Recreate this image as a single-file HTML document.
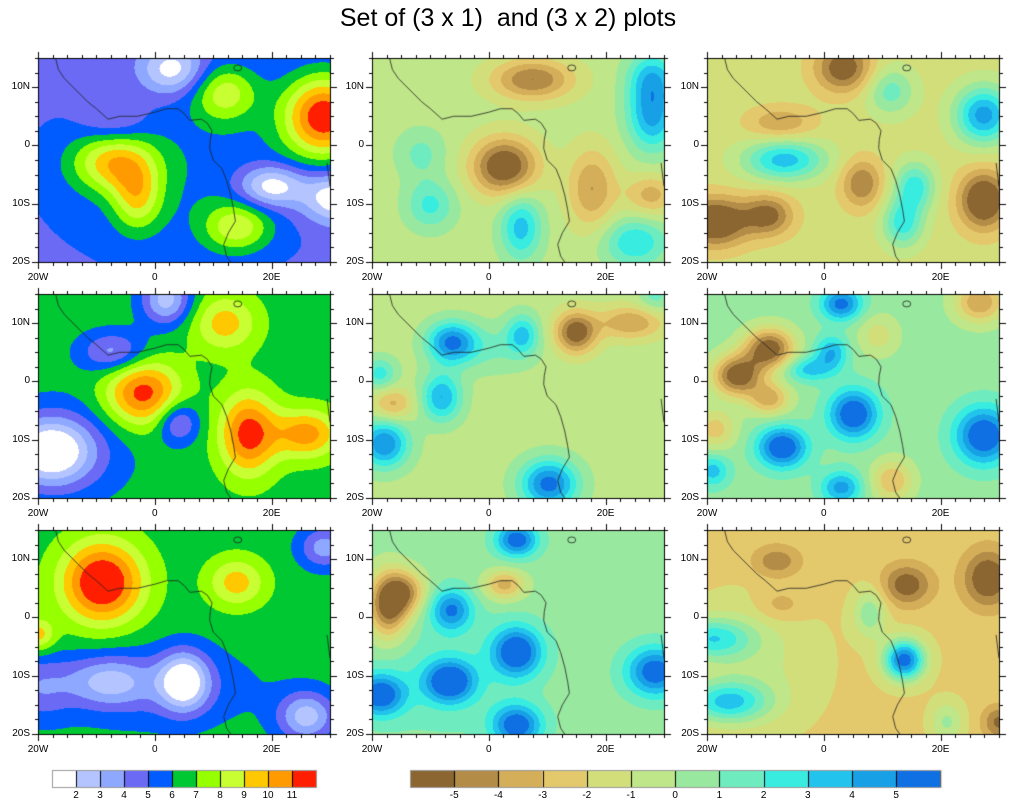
<!DOCTYPE html>
<html><head><meta charset="utf-8">
<style>
body{margin:0;background:#fff;width:1016px;height:806px;overflow:hidden;position:relative;font-family:"Liberation Sans",sans-serif}
canvas{position:absolute;left:0;top:0}
.t{position:absolute;font-size:10px;color:#000;white-space:nowrap}
#title{position:absolute;left:0;width:1016px;top:4px;text-align:center;font-size:25px}
</style></head><body>
<canvas id="c" width="1016" height="806"></canvas>
<div id="title">Set of (3 x 1)&nbsp; and (3 x 2) plots</div>
<div id="labels"></div>
<script>
const ctx=document.getElementById('c').getContext('2d');
const L=['#ffffff','#b4c4ff','#8ea8ff','#6a6af5','#005cff','#00c832','#96ff00','#c8ff32','#ffc800','#ff9b00','#ff1e00'];
const R=['#8b6631','#b38c48','#d4ae58','#e4c86c','#d2de7a','#bfe688','#98e8a0','#6eecc0','#39ece0','#22c3ec','#18a0e6','#0f70e4'];
const cx=[38,372,707],ry=[58,294,530],W=292,H=204;
const P=[
 [4.6,'L',[[5,-5,1.2,18,12],[-7,-3,4.3,5,3.5],[-3,-9,3.5,3,4],[12,9,3.5,4,3.5],[29,5,7,5,5],[14,-14,3.5,4,3],[20,-7,-4,4,2.5],[31,-9,-4,4,3],[3,13,-3.5,4,3],[-7,4,-1.5,4,2.5]]],
 [-0.5,'R',[[2.7,-3.6,-6,4,3.5],[7.5,11.3,-4.5,5,2.5],[17.7,-7.4,-3.5,3,5],[27.8,-8.5,-3,3,2.5],[28,5.5,5,3,4.5],[28,12,3,3,3],[5.5,-14,4,2.5,4],[-10,-10.2,2.8,3,3],[-11.6,-1.4,1.8,3,3],[25,-16.6,3.5,4,3]]],
 [-1.5,'R',[[3.4,13.3,-4.5,3.5,3],[-7.4,3.8,-2.5,4,2],[-6.7,-2.5,5,5,2.5],[11.4,9.3,3,3,3],[27.4,5.2,6,3.5,3.5],[6.5,-6.5,-3.5,2.5,3],[15.6,-7,4,2.5,3],[13.5,-13.4,4,2.5,3],[-18.6,-13.1,-5.5,4,3],[-9.5,-12,-4,3,2.5],[27.4,-9.4,-5.5,3,3.5]]],
 [6.5,'L',[[-18,-12,-5,5,4],[2,14,-4,3,3],[-7,5,-3,4,2.5],[4,-7,-3,2.5,2.5],[-2,-2,5,4.5,4],[16,-9,5,3.5,5],[26,-9,4,4,3],[12,10,3,4,3.5],[-15,-12,-1.5,8,6]]],
 [-0.5,'R',[[-6.4,6.7,5.5,3,2.5],[5.8,8.1,3.5,2,2.5],[-8.1,-2.7,4.5,2.5,3],[-18.6,1.3,3,2,2],[-17.9,-10.7,5.5,3,3],[10.3,-17.6,6,3.5,3],[28.5,14.7,2,2,2],[14.9,8.4,-5.5,2.5,2.5],[24.3,10.1,-3.5,4,2],[-16.5,-3.9,-3,2.5,2],[0.6,5.6,1.5,5,3]]],
 [0.5,'R',[[-14.8,1,-6.5,3,2.5],[-9.3,5.6,-6.5,3,2.5],[-9.3,-3,-4,2.5,2],[-18.6,-8.2,-3,2.5,2.5],[3,13.3,5,2.5,2],[1.3,5,3.5,2,2],[-2.6,2.1,3,3,1.5],[5.1,-5.6,6,3,3],[-7.1,-11.3,6,3,2.5],[27.4,-9.3,6,3.5,3.5],[3,-18.2,4,2.5,2],[-19,-15.3,3,2,2],[9.3,7.9,-2,2.5,2.5],[26.7,13.6,-4.5,3,2.5],[11.7,-17,-3.5,2.5,2.5]]],
 [6.5,'L',[[-9,6,6,5,5],[14,6,3,3.5,3],[5,-11,-5,3,3.5],[-8,-11,-3,5,3],[-20,-12,-2,4,4],[26,-17,-4,3.5,3],[29,12,-3,3,2.5],[0,-12,-1.5,12,5],[-20,-3,3,2,2]]],
 [0.5,'R',[[4.8,13.3,5.5,2.5,2],[-17.2,2.1,-6.5,2.5,4],[-14.1,4.4,-4,2.5,2.5],[2.7,5.6,-4,2.5,1.8],[-6.4,1.3,4.5,2.5,2.5],[4.8,-5.9,6,3,3],[-6.7,-11,6,3,2.5],[-18.6,-13.3,5.5,3,2.5],[4.8,-18.5,5.5,3,2.5],[28.5,-9.3,5.5,3.5,3],[-8,-10,1,10,8]]],
 [-2.3,'R',[[-8.1,9.6,-2.5,3,2],[14.2,5.6,-3.5,3,2.5],[28.1,6.7,-4,3,3.5],[-7.4,2.1,-1.5,3,2],[13.8,-7.3,8,2.5,2.5],[7.9,0.7,3,2,3],[-19.3,-3.6,4.5,5,2.5],[-16.5,-14.5,5,5,2.5],[-12,-8,1.5,8,8],[21.1,-17.9,2.5,2,2.5],[30,-18,-3,2,2]]]
];
function lonx(lon,x0){return x0+(lon+20)/50*W}
function laty(lat,y0){return y0+(15-lat)/35*H}
const img=ctx.createImageData(1016,806);
function hex(h){return [parseInt(h.substr(1,2),16),parseInt(h.substr(3,2),16),parseInt(h.substr(5,2),16)]}
const LL=L.map(hex),RR=R.map(hex);
for(let r=0;r<3;r++)for(let c=0;c<3;c++){
 const p=P[r*3+c],base=p[0],pal=p[1]=='L'?LL:RR,bl=p[2];
 for(let j=0;j<H;j++)for(let i=0;i<W;i++){
  const lon=-20+(i+0.5)/W*50,lat=15-(j+0.5)/H*35;
  let v=base;
  for(const b of bl){const dx=(lon-b[0])/b[3],dy=(lat-b[1])/b[4];v+=b[2]*Math.exp(-0.5*(dx*dx+dy*dy));}
  let k=p[1]=='L'?Math.floor(v)-1:Math.floor(v)+6;
  k=Math.max(0,Math.min(pal.length-1,k));
  const col=pal[k],o=((ry[r]+j)*1016+cx[c]+i)*4;
  img.data[o]=col[0];img.data[o+1]=col[1];img.data[o+2]=col[2];img.data[o+3]=255;
 }
}
ctx.putImageData(img,0,0);
const coast=[[-17,15],[-16.5,13],[-15.5,11.5],[-14,10],[-13,9],[-11.5,7.5],[-10,6.3],[-8,4.5],[-6,5],[-3,5],[0,5.7],[2,6.3],[4,6.3],[5,5.5],[6,4.3],[8,4.5],[9,3.8],[9.8,2.5],[9.5,1],[9.4,-0.5],[10,-2.5],[11.5,-4],[12.3,-6],[13,-8.5],[13.5,-11],[13.8,-13],[12.6,-15],[11.8,-17],[12.3,-19],[13,-20]];
const lab=document.getElementById('labels');let html='';
ctx.lineWidth=0.8;ctx.strokeStyle='#222';
for(let r=0;r<3;r++)for(let c=0;c<3;c++){
 const x0=cx[c],y0=ry[r];
 ctx.beginPath();coast.forEach((q,n)=>{const X=lonx(q[0],x0),Y=laty(q[1],y0);n?ctx.lineTo(X,Y):ctx.moveTo(X,Y)});ctx.stroke();
 ctx.beginPath();ctx.ellipse(lonx(14.2,x0),laty(13.3,y0),4,3,0,0,6.3);ctx.stroke();
 ctx.beginPath();ctx.moveTo(lonx(29.5,x0),laty(-3,y0));ctx.lineTo(lonx(30,x0),laty(-7,y0));ctx.stroke();
 ctx.strokeStyle='#000';ctx.lineWidth=1;ctx.strokeRect(x0+0.5,y0+0.5,W,H);
 ctx.beginPath();
 for(let lon=-20;lon<=30;lon+=2.5){const X=Math.round(lonx(lon,x0))+0.5,mj=lon%20==0,l=mj?6:3;
  ctx.moveTo(X,y0);ctx.lineTo(X,y0-l);ctx.moveTo(X,y0+H+1);ctx.lineTo(X,y0+H+1+l);}
 for(let lat=-20;lat<=15;lat+=2.5){const Y=Math.round(laty(lat,y0))+0.5,mj=lat%10==0,l=mj?6:3;
  ctx.moveTo(x0,Y);ctx.lineTo(x0-l,Y);ctx.moveTo(x0+W+1,Y);ctx.lineTo(x0+W+1+l,Y);}
 ctx.stroke();ctx.strokeStyle='#222';ctx.lineWidth=0.8;
 [['10N',10],['0',0],['10S',-10],['20S',-20]].forEach(a=>{html+=`<div class="t" style="right:${1016-x0+8}px;top:${laty(a[1],y0)-6}px">${a[0]}</div>`});
 [['20W',-20],['0',0],['20E',20]].forEach(a=>{html+=`<div class="t" style="left:${lonx(a[1],x0)-20}px;width:40px;text-align:center;top:${y0+H+10}px">${a[0]}</div>`});
}
function bar(x0,w,cols,labs){
 cols.forEach((c,i)=>{ctx.fillStyle=c;ctx.fillRect(x0+i*w,770,w,17);});
 ctx.strokeStyle='#000';ctx.lineWidth=1;
 for(let i=0;i<=cols.length;i++){ctx.beginPath();ctx.moveTo(Math.round(x0+i*w)+0.5,770);ctx.lineTo(Math.round(x0+i*w)+0.5,787);ctx.stroke();}
 ctx.strokeStyle='#999';ctx.strokeRect(x0+0.5,770.5,w*cols.length,17);
 labs.forEach((t,i)=>{html+=`<div class="t" style="left:${x0+(i+1)*w-15}px;width:30px;text-align:center;top:790px">${t}</div>`});
}
bar(52,24,L,['2','3','4','5','6','7','8','9','10','11']);
bar(410,44.2,R,['-5','-4','-3','-2','-1','0','1','2','3','4','5']);
lab.innerHTML=html;
</script>
</body></html>
